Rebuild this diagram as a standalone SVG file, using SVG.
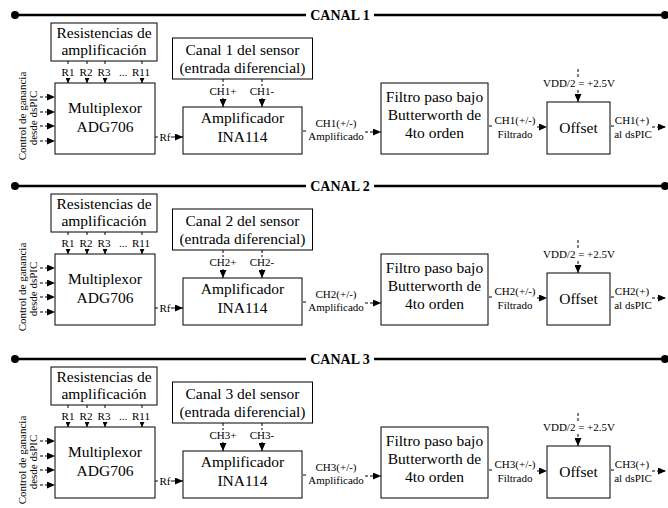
<svg xmlns="http://www.w3.org/2000/svg" width="668" height="508" viewBox="0 0 668 508" font-family="'Liberation Serif', 'DejaVu Serif', serif">
<style>
.bt{font-family:"Liberation Serif","DejaVu Serif",serif;font-size:15.5px;text-anchor:middle;fill:#000}
.sm{font-family:"Liberation Serif","DejaVu Serif",serif;font-size:11px;text-anchor:middle;fill:#000}
.hdr{font-family:"Liberation Serif","DejaVu Serif",serif;font-size:14px;font-weight:bold;text-anchor:middle;fill:#000}
.box{fill:#fff;stroke:#000;stroke-width:1}
.bus{stroke:#000;stroke-width:2.5}
.d{stroke:#000;stroke-width:1;stroke-dasharray:3,2;fill:none}
.a{marker-end:url(#arr)}
.as{marker-end:url(#arrs)}
</style>
<defs>
<marker id="arr" viewBox="0 0 8 7" refX="8" refY="3.5" markerWidth="8" markerHeight="7" markerUnits="userSpaceOnUse" orient="auto"><path d="M0,0L8,3.5L0,7z" fill="#000"/></marker>
<marker id="arrs" viewBox="0 0 5 5" refX="5" refY="2.5" markerWidth="5" markerHeight="5" markerUnits="userSpaceOnUse" orient="auto"><path d="M0,0L5,2.5L0,5z" fill="#000"/></marker>
</defs>
<rect width="668" height="508" fill="#fff"/>

<g id="ch1">
<g id="c1-header">
<line class="bus" x1="15" y1="15" x2="306" y2="15"/>
<line class="bus" x1="374" y1="15" x2="665" y2="15"/>
<circle cx="15" cy="15" r="4"/><circle cx="665" cy="15" r="4"/>
<text class="hdr" x="340" y="20">CANAL 1</text>
</g>
<g id="c1-resistencias"><rect class="box" x="51" y="23" width="106" height="38"/><text class="bt" x="104" y="38">Resistencias de</text><text class="bt" x="104" y="55">amplificación</text></g>
<g id="c1-mux"><rect class="box" x="55" y="83" width="100" height="71"/><text class="bt" x="105" y="113">Multiplexor</text><text class="bt" x="105" y="132">ADG706</text></g>
<g id="c1-control"><text class="sm" transform="translate(26,116) rotate(-90)">Control de ganancia</text><text class="sm" transform="translate(37,118) rotate(-90)">desde dsPIC</text></g>
<g id="c1-sensor"><rect class="box" x="172.5" y="38" width="140" height="41"/><text class="bt" x="242.5" y="55">Canal 1 del sensor</text><text class="bt" x="242.5" y="73">(entrada diferencial)</text></g>
<g id="c1-amp"><rect class="box" x="183" y="107" width="119" height="47"/><text class="bt" x="242.5" y="123">Amplificador</text><text class="bt" x="242.5" y="142">INA114</text></g>
<g id="c1-filtro"><rect class="box" x="381" y="83" width="107" height="71"/><text class="bt" x="434.5" y="102">Filtro paso bajo</text><text class="bt" x="434.5" y="120">Butterworth de</text><text class="bt" x="434.5" y="138">4to orden</text></g>
<g id="c1-offset"><rect class="box" x="547" y="102" width="63" height="52"/><text class="bt" x="578.5" y="133">Offset</text></g>
<g id="c1-connectors">
<line class="d a" x1="40" y1="97" x2="55" y2="97"/><line class="d a" x1="40" y1="112" x2="55" y2="112"/><line class="d a" x1="40" y1="126" x2="55" y2="126"/><line class="d a" x1="40" y1="141" x2="55" y2="141"/>
<line class="d" x1="68" y1="61" x2="68" y2="65"/><line class="d" x1="87" y1="61" x2="87" y2="65"/><line class="d" x1="105" y1="61" x2="105" y2="65"/><line class="d" x1="142" y1="61" x2="142" y2="65"/>
<line class="as" x1="68" y1="78" x2="68" y2="83" stroke="#000"/><line class="as" x1="87" y1="78" x2="87" y2="83" stroke="#000"/><line class="as" x1="105" y1="78" x2="105" y2="83" stroke="#000"/><line class="as" x1="142" y1="78" x2="142" y2="83" stroke="#000"/>
<text class="sm" x="68" y="76">R1</text><text class="sm" x="86" y="76">R2</text><text class="sm" x="104" y="76">R3</text><text class="sm" x="123" y="76">...</text><text class="sm" x="141" y="76">R11</text>
<line class="d" x1="223" y1="79" x2="223" y2="86"/><line class="d" x1="262" y1="79" x2="262" y2="86"/>
<line class="a" x1="223" y1="98" x2="223" y2="107" stroke="#000"/><line class="a" x1="262" y1="98" x2="262" y2="107" stroke="#000"/>
<text class="sm" x="223" y="95">CH1+</text><text class="sm" x="262" y="95">CH1-</text>
<line class="d" x1="155" y1="137" x2="159" y2="137"/><text class="sm" x="165" y="141">Rf</text><line class="a" x1="171" y1="137" x2="183" y2="137" stroke="#000"/>
<line class="d" x1="303" y1="131" x2="306" y2="131"/><text class="sm" x="336" y="127">CH1(+/-)</text><text class="sm" x="336" y="140">Amplificado</text><line class="d a" x1="365" y1="132" x2="381" y2="132"/>
<line class="d" x1="489" y1="126" x2="492" y2="126"/><text class="sm" x="515" y="124">CH1(+/-)</text><text class="sm" x="515" y="138">Filtrado</text><line class="d a" x1="537" y1="127" x2="547" y2="127"/>
<line class="d" x1="578" y1="69" x2="578" y2="77"/><text class="sm" x="579" y="87">VDD/2 = +2.5V</text><line class="d a" x1="578" y1="90" x2="578" y2="102"/>
<line class="d" x1="611" y1="126" x2="614" y2="126"/><text class="sm" x="632" y="124">CH1(+)</text><text class="sm" x="633" y="138">al dsPIC</text><line class="d a" x1="652" y1="127" x2="666" y2="127"/>
</g>
</g>

<g id="ch2" transform="translate(0,171)">
<g id="c2-header">
<line class="bus" x1="15" y1="15" x2="306" y2="15"/>
<line class="bus" x1="374" y1="15" x2="665" y2="15"/>
<circle cx="15" cy="15" r="4"/><circle cx="665" cy="15" r="4"/>
<text class="hdr" x="340" y="20">CANAL 2</text>
</g>
<g id="c2-resistencias"><rect class="box" x="51" y="23" width="106" height="38"/><text class="bt" x="104" y="38">Resistencias de</text><text class="bt" x="104" y="55">amplificación</text></g>
<g id="c2-mux"><rect class="box" x="55" y="83" width="100" height="71"/><text class="bt" x="105" y="113">Multiplexor</text><text class="bt" x="105" y="132">ADG706</text></g>
<g id="c2-control"><text class="sm" transform="translate(26,116) rotate(-90)">Control de ganancia</text><text class="sm" transform="translate(37,118) rotate(-90)">desde dsPIC</text></g>
<g id="c2-sensor"><rect class="box" x="172.5" y="38" width="140" height="41"/><text class="bt" x="242.5" y="55">Canal 2 del sensor</text><text class="bt" x="242.5" y="73">(entrada diferencial)</text></g>
<g id="c2-amp"><rect class="box" x="183" y="107" width="119" height="47"/><text class="bt" x="242.5" y="123">Amplificador</text><text class="bt" x="242.5" y="142">INA114</text></g>
<g id="c2-filtro"><rect class="box" x="381" y="83" width="107" height="71"/><text class="bt" x="434.5" y="102">Filtro paso bajo</text><text class="bt" x="434.5" y="120">Butterworth de</text><text class="bt" x="434.5" y="138">4to orden</text></g>
<g id="c2-offset"><rect class="box" x="547" y="102" width="63" height="52"/><text class="bt" x="578.5" y="133">Offset</text></g>
<g id="c2-connectors">
<line class="d a" x1="40" y1="97" x2="55" y2="97"/><line class="d a" x1="40" y1="112" x2="55" y2="112"/><line class="d a" x1="40" y1="126" x2="55" y2="126"/><line class="d a" x1="40" y1="141" x2="55" y2="141"/>
<line class="d" x1="68" y1="61" x2="68" y2="65"/><line class="d" x1="87" y1="61" x2="87" y2="65"/><line class="d" x1="105" y1="61" x2="105" y2="65"/><line class="d" x1="142" y1="61" x2="142" y2="65"/>
<line class="as" x1="68" y1="78" x2="68" y2="83" stroke="#000"/><line class="as" x1="87" y1="78" x2="87" y2="83" stroke="#000"/><line class="as" x1="105" y1="78" x2="105" y2="83" stroke="#000"/><line class="as" x1="142" y1="78" x2="142" y2="83" stroke="#000"/>
<text class="sm" x="68" y="76">R1</text><text class="sm" x="86" y="76">R2</text><text class="sm" x="104" y="76">R3</text><text class="sm" x="123" y="76">...</text><text class="sm" x="141" y="76">R11</text>
<line class="d" x1="223" y1="79" x2="223" y2="86"/><line class="d" x1="262" y1="79" x2="262" y2="86"/>
<line class="a" x1="223" y1="98" x2="223" y2="107" stroke="#000"/><line class="a" x1="262" y1="98" x2="262" y2="107" stroke="#000"/>
<text class="sm" x="223" y="95">CH2+</text><text class="sm" x="262" y="95">CH2-</text>
<line class="d" x1="155" y1="137" x2="159" y2="137"/><text class="sm" x="165" y="141">Rf</text><line class="a" x1="171" y1="137" x2="183" y2="137" stroke="#000"/>
<line class="d" x1="303" y1="131" x2="306" y2="131"/><text class="sm" x="336" y="127">CH2(+/-)</text><text class="sm" x="336" y="140">Amplificado</text><line class="d a" x1="365" y1="132" x2="381" y2="132"/>
<line class="d" x1="489" y1="126" x2="492" y2="126"/><text class="sm" x="515" y="124">CH2(+/-)</text><text class="sm" x="515" y="138">Filtrado</text><line class="d a" x1="537" y1="127" x2="547" y2="127"/>
<line class="d" x1="578" y1="69" x2="578" y2="77"/><text class="sm" x="579" y="87">VDD/2 = +2.5V</text><line class="d a" x1="578" y1="90" x2="578" y2="102"/>
<line class="d" x1="611" y1="126" x2="614" y2="126"/><text class="sm" x="632" y="124">CH2(+)</text><text class="sm" x="633" y="138">al dsPIC</text><line class="d a" x1="652" y1="127" x2="666" y2="127"/>
</g>
</g>

<g id="ch3" transform="translate(0,344)">
<g id="c3-header">
<line class="bus" x1="15" y1="15" x2="306" y2="15"/>
<line class="bus" x1="374" y1="15" x2="665" y2="15"/>
<circle cx="15" cy="15" r="4"/><circle cx="665" cy="15" r="4"/>
<text class="hdr" x="340" y="20">CANAL 3</text>
</g>
<g id="c3-resistencias"><rect class="box" x="51" y="23" width="106" height="38"/><text class="bt" x="104" y="38">Resistencias de</text><text class="bt" x="104" y="55">amplificación</text></g>
<g id="c3-mux"><rect class="box" x="55" y="83" width="100" height="71"/><text class="bt" x="105" y="113">Multiplexor</text><text class="bt" x="105" y="132">ADG706</text></g>
<g id="c3-control"><text class="sm" transform="translate(26,116) rotate(-90)">Control de ganancia</text><text class="sm" transform="translate(37,118) rotate(-90)">desde dsPIC</text></g>
<g id="c3-sensor"><rect class="box" x="172.5" y="38" width="140" height="41"/><text class="bt" x="242.5" y="55">Canal 3 del sensor</text><text class="bt" x="242.5" y="73">(entrada diferencial)</text></g>
<g id="c3-amp"><rect class="box" x="183" y="107" width="119" height="47"/><text class="bt" x="242.5" y="123">Amplificador</text><text class="bt" x="242.5" y="142">INA114</text></g>
<g id="c3-filtro"><rect class="box" x="381" y="83" width="107" height="71"/><text class="bt" x="434.5" y="102">Filtro paso bajo</text><text class="bt" x="434.5" y="120">Butterworth de</text><text class="bt" x="434.5" y="138">4to orden</text></g>
<g id="c3-offset"><rect class="box" x="547" y="102" width="63" height="52"/><text class="bt" x="578.5" y="133">Offset</text></g>
<g id="c3-connectors">
<line class="d a" x1="40" y1="97" x2="55" y2="97"/><line class="d a" x1="40" y1="112" x2="55" y2="112"/><line class="d a" x1="40" y1="126" x2="55" y2="126"/><line class="d a" x1="40" y1="141" x2="55" y2="141"/>
<line class="d" x1="68" y1="61" x2="68" y2="65"/><line class="d" x1="87" y1="61" x2="87" y2="65"/><line class="d" x1="105" y1="61" x2="105" y2="65"/><line class="d" x1="142" y1="61" x2="142" y2="65"/>
<line class="as" x1="68" y1="78" x2="68" y2="83" stroke="#000"/><line class="as" x1="87" y1="78" x2="87" y2="83" stroke="#000"/><line class="as" x1="105" y1="78" x2="105" y2="83" stroke="#000"/><line class="as" x1="142" y1="78" x2="142" y2="83" stroke="#000"/>
<text class="sm" x="68" y="76">R1</text><text class="sm" x="86" y="76">R2</text><text class="sm" x="104" y="76">R3</text><text class="sm" x="123" y="76">...</text><text class="sm" x="141" y="76">R11</text>
<line class="d" x1="223" y1="79" x2="223" y2="86"/><line class="d" x1="262" y1="79" x2="262" y2="86"/>
<line class="a" x1="223" y1="98" x2="223" y2="107" stroke="#000"/><line class="a" x1="262" y1="98" x2="262" y2="107" stroke="#000"/>
<text class="sm" x="223" y="95">CH3+</text><text class="sm" x="262" y="95">CH3-</text>
<line class="d" x1="155" y1="137" x2="159" y2="137"/><text class="sm" x="165" y="141">Rf</text><line class="a" x1="171" y1="137" x2="183" y2="137" stroke="#000"/>
<line class="d" x1="303" y1="131" x2="306" y2="131"/><text class="sm" x="336" y="127">CH3(+/-)</text><text class="sm" x="336" y="140">Amplificado</text><line class="d a" x1="365" y1="132" x2="381" y2="132"/>
<line class="d" x1="489" y1="126" x2="492" y2="126"/><text class="sm" x="515" y="124">CH3(+/-)</text><text class="sm" x="515" y="138">Filtrado</text><line class="d a" x1="537" y1="127" x2="547" y2="127"/>
<line class="d" x1="578" y1="69" x2="578" y2="77"/><text class="sm" x="579" y="87">VDD/2 = +2.5V</text><line class="d a" x1="578" y1="90" x2="578" y2="102"/>
<line class="d" x1="611" y1="126" x2="614" y2="126"/><text class="sm" x="632" y="124">CH3(+)</text><text class="sm" x="633" y="138">al dsPIC</text><line class="d a" x1="652" y1="127" x2="666" y2="127"/>
</g>
</g>
</svg>
